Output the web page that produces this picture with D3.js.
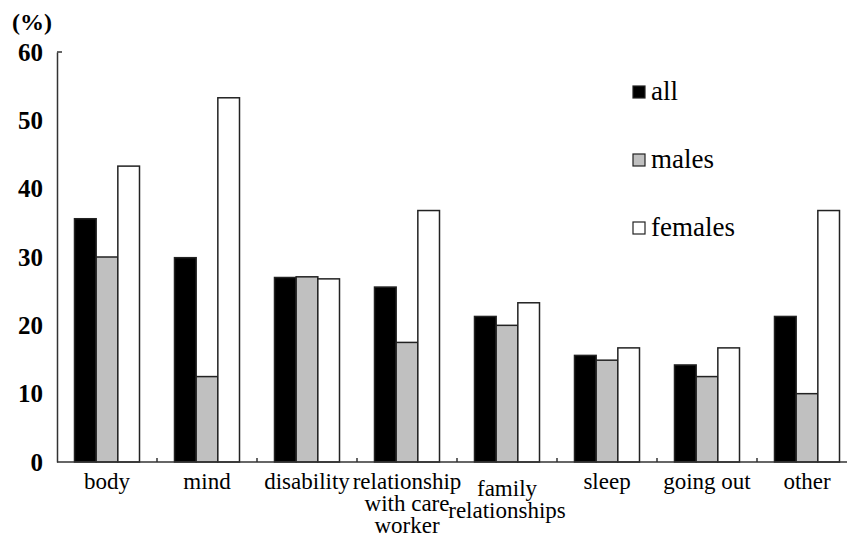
<!DOCTYPE html>
<html>
<head>
<meta charset="utf-8">
<script src="https://cdn.jsdelivr.net/npm/d3@7"></script>
<style>
  body { margin: 0; background: #fff; }
  svg { display: block; font-family: "Liberation Serif", "Times New Roman", serif; }
</style>
</head>
<body>
<svg id="chart" width="847" height="540"></svg>
<script>
// data (percent)
var categories = ["body", "mind", "disability", "relationship\nwith care\nworker", "family\nrelationships", "sleep", "going out", "other"];
var series = ["all", "males", "females"];
var allValues = [35.6, 29.9, 27.0, 25.6, 21.3, 15.6, 14.2, 21.3];
var maleValues = [30.0, 12.5, 27.1, 17.5, 20.0, 14.9, 12.5, 10.0];
var femaleValues = [43.3, 53.3, 26.8, 36.8, 23.3, 16.7, 16.7, 36.8];
var yTicks = [0, 10, 20, 30, 40, 50, 60];

var fills = { all: "#000000", males: "#c0c0c0", females: "#ffffff" };

var svg = d3.select("#chart");

var padLeft = 57, axisY = 462, plotTop = 52;

var x = d3.scaleBand()
    .domain(categories)
    .range([padLeft, padLeft + 100 * categories.length]);

var xSub = d3.scaleBand()
    .domain(series)
    .range([x.bandwidth() * 0.175, x.bandwidth() * 0.825]);

var y = d3.scaleLinear()
    .domain([0, 60])
    .range([axisY, plotTop]);

// build rows for drawing
var rows = categories.map(function (c, i) {
    return { cat: c, values: { all: allValues[i], males: maleValues[i], females: femaleValues[i] } };
});

// bars
var groups = svg.selectAll(".grp")
    .data(rows)
    .enter()
    .append("g")
    .attr("class", "grp")
    .attr("transform", function (d) { return "translate(" + x(d.cat) + ",0)"; });

groups.selectAll("rect")
    .data(function (d) { return series.map(function (s) { return { s: s, v: d.values[s] }; }); })
    .enter()
    .append("rect")
    .attr("x", function (d) { return xSub(d.s); })
    .attr("y", function (d) { return y(d.v); })
    .attr("width", xSub.bandwidth())
    .attr("height", function (d) { return y(0) - y(d.v); })
    .attr("fill", function (d) { return fills[d.s]; })
    .attr("stroke", "#222")
    .attr("stroke-width", 1.5);

// y axis
var yAxis = d3.axisLeft(y).tickValues(yTicks).tickSize(0).tickPadding(14);
var yG = svg.append("g")
    .attr("transform", "translate(" + padLeft + ",0)")
    .call(yAxis);
yG.attr("font-family", null);
yG.select(".domain").attr("stroke", "#333").attr("stroke-width", 1.5);
yG.selectAll("text")
    .attr("font-size", 25)
    .attr("font-weight", "bold")
    .attr("fill", "#000");
// little cap at the top of the axis
yG.append("line")
    .attr("x1", 0).attr("x2", 5)
    .attr("y1", y(60)).attr("y2", y(60))
    .attr("stroke", "#333").attr("stroke-width", 1.5);

svg.append("text")
    .attr("x", 12)
    .attr("y", 30)
    .attr("font-size", 24)
    .attr("font-weight", "bold")
    .text("(%)");

// x axis line and small tick marks between categories
svg.append("line")
    .attr("x1", padLeft).attr("x2", 847)
    .attr("y1", y(0)).attr("y2", y(0))
    .attr("stroke", "#333").attr("stroke-width", 1.5);

svg.selectAll(".xtick")
    .data(categories.slice(1))
    .enter()
    .append("line")
    .attr("class", "xtick")
    .attr("x1", function (d) { return x(d); })
    .attr("x2", function (d) { return x(d); })
    .attr("y1", y(0))
    .attr("y2", y(0) - 4)
    .attr("stroke", "#333").attr("stroke-width", 1.5);

// category labels
var labels = svg.selectAll(".xlab")
    .data(categories)
    .enter()
    .append("text")
    .attr("class", "xlab")
    .attr("text-anchor", "middle")
    .attr("font-size", 23)
    .attr("transform", function (d) {
        var shift = d.indexOf("family") === 0 ? 7 : 0;
        return "translate(" + (x(d) + x.bandwidth() / 2) + "," + (489 + shift) + ")";
    });

labels.selectAll("tspan")
    .data(function (d) { return d.split("\n"); })
    .enter()
    .append("tspan")
    .attr("x", 0)
    .attr("dy", function (d, i) { return i === 0 ? 0 : 22; })
    .text(function (d) { return d; });

// legend
var legend = svg.selectAll(".leg")
    .data(series)
    .enter()
    .append("g")
    .attr("class", "leg")
    .attr("transform", function (d, i) { return "translate(633," + (86 + i * 68) + ")"; });

legend.append("rect")
    .attr("width", 12)
    .attr("height", 12)
    .attr("fill", function (d) { return fills[d]; })
    .attr("stroke", "#222")
    .attr("stroke-width", 1.2);

legend.append("text")
    .attr("x", 18)
    .attr("y", 14)
    .attr("font-size", 27)
    .text(function (d) { return d; });
</script>
</body>
</html>
